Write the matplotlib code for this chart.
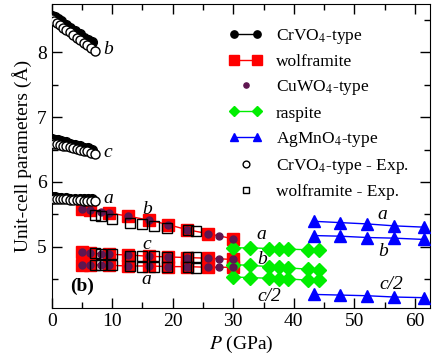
import matplotlib as mpl
mpl.use("Agg")
import matplotlib.pyplot as plt
from matplotlib.legend_handler import HandlerLine2D
from matplotlib.ticker import MultipleLocator

mpl.rcParams.update({"font.family": "Liberation Serif", "mathtext.fontset": "stix"})

# CrVO4-type (theory)
p_crvo4 = [0, 0.5, 1.0, 1.6, 2.3, 3.0, 3.8, 4.6, 5.4, 6.0, 6.6]
b_crvo4 = [8.57, 8.55, 8.52, 8.48, 8.43, 8.38, 8.33, 8.28, 8.23, 8.20, 8.16]
c_crvo4 = [6.66, 6.65, 6.64, 6.63, 6.61, 6.59, 6.57, 6.55, 6.53, 6.52, 6.50]
a_crvo4 = [5.76, 5.76, 5.75, 5.75, 5.75, 5.74, 5.74, 5.74, 5.73, 5.73, 5.73]

# CrVO4-type (experiment)
p_crvo4_exp = [0, 0.3, 0.8, 1.3, 1.9, 2.4, 3.0, 3.5, 4.1, 4.7, 5.3, 5.9, 6.5, 7.1]
b_crvo4_exp = [8.51, 8.49, 8.45, 8.42, 8.38, 8.35, 8.31, 8.27, 8.23, 8.19, 8.15, 8.11, 8.07, 8.03]
c_crvo4_exp = [6.60, 6.59, 6.58, 6.57, 6.56, 6.55, 6.54, 6.52, 6.51, 6.50, 6.48, 6.47, 6.45, 6.43]
a_crvo4_exp = [5.74, 5.74, 5.74, 5.73, 5.73, 5.73, 5.72, 5.72, 5.72, 5.72, 5.71, 5.71, 5.71, 5.70]

# wolframite (theory)
p_wolf = [5.0, 6.3, 9.5, 12.6, 16.0, 19.2, 22.4, 25.8, 30.0]
b_wolf = [5.58, 5.56, 5.52, 5.47, 5.41, 5.34, 5.26, 5.20, 5.12]
c_wolf = [4.91, 4.90, 4.88, 4.87, 4.85, 4.84, 4.83, 4.82, 4.80]
a_wolf = [4.72, 4.72, 4.71, 4.70, 4.70, 4.69, 4.69, 4.68, 4.68]

# CuWO4-type (theory)
p_cuwo4 = [5.0, 6.3, 8.1, 9.5, 12.6, 16.0, 19.2, 22.4, 25.8, 27.6, 30.0]
b_cuwo4 = [5.58, 5.56, 5.53, 5.52, 5.47, 5.41, 5.34, 5.26, 5.20, 5.16, 5.12]
c_cuwo4 = [4.91, 4.90, 4.89, 4.88, 4.87, 4.85, 4.84, 4.83, 4.82, 4.81, 4.80]
a_cuwo4 = [4.72, 4.72, 4.71, 4.71, 4.70, 4.70, 4.69, 4.69, 4.68, 4.68, 4.68]

# wolframite (experiment)
p_wolf_exp = [7.1, 8.2, 9.9, 12.9, 15.0, 16.9, 19.0, 22.5, 23.9]
b_wolf_exp = [5.49, 5.47, 5.42, 5.37, 5.35, 5.32, 5.28, 5.25, 5.24]
c_wolf_exp = [4.90, 4.89, 4.88, 4.86, 4.86, 4.85, 4.84, 4.84, 4.84]
a_wolf_exp = [4.72, 4.71, 4.71, 4.70, 4.69, 4.69, 4.68, 4.68, 4.67]

# raspite
p_rasp = [30.0, 32.8, 35.9, 37.5, 39.1, 42.4, 44.2]
a_rasp = [4.98, 4.98, 4.97, 4.97, 4.96, 4.95, 4.95]
b_rasp = [4.72, 4.71, 4.69, 4.68, 4.67, 4.65, 4.64]
c2_rasp = [4.53, 4.52, 4.51, 4.50, 4.50, 4.48, 4.48]

# AgMnO4-type
p_agmn = [43.4, 47.7, 52.1, 56.6, 61.5]
a_agmn = [5.39, 5.37, 5.35, 5.32, 5.30]
b_agmn = [5.17, 5.16, 5.14, 5.13, 5.11]
c2_agmn = [4.26, 4.25, 4.24, 4.22, 4.21]

PURPLE = "#5e1650"

fig = plt.figure(figsize=(4.36, 3.59), dpi=100)
ax = fig.add_axes([0.1186, 0.142, 0.8675, 0.847])

h = {}
for ys in [b_crvo4, c_crvo4, a_crvo4]:
    l, = ax.plot(p_crvo4, ys, "-o", color="black", lw=1, ms=7, zorder=3)
h["crvo4"] = l
for ys in [b_wolf, c_wolf, a_wolf]:
    l, = ax.plot(p_wolf, ys, "-s", color="red", mfc="red", mec="red", lw=1, ms=9, zorder=3)
h["wolf"] = l
for ys in [b_cuwo4, c_cuwo4, a_cuwo4]:
    l, = ax.plot(p_cuwo4, ys, "o", color=PURPLE, ms=5, ls="none", zorder=4)
h["cuwo4"] = l
for ys in [a_rasp, b_rasp, c2_rasp]:
    l, = ax.plot(p_rasp, ys, "-D", color="#00ee00", lw=1, ms=7, zorder=3)
h["rasp"] = l
for ys in [a_agmn, b_agmn, c2_agmn]:
    l, = ax.plot(p_agmn, ys, "-^", color="#0000ff", lw=1, ms=8.5, zorder=3)
h["agmn"] = l
for ys in [b_crvo4_exp, c_crvo4_exp, a_crvo4_exp]:
    l, = ax.plot(p_crvo4_exp, ys, "o", mfc="white", mec="black", mew=1, ms=6.5,
                 ls="none", zorder=5)
h["crvo4_exp"] = l
for ys in [b_wolf_exp, c_wolf_exp, a_wolf_exp]:
    l, = ax.plot(p_wolf_exp, ys, "s", mfc="none", mec="black", mew=1, ms=6.5,
                 ls="none", zorder=5)
h["wolf_exp"] = l

# labels of the cell parameters
lab = dict(fontsize=14, style="italic", ha="center", va="center")
for x, y, s in [(9.3, 8.04, "b"), (9.3, 6.46, "c"), (9.3, 5.75, "a"),
                (15.7, 5.58, "b"), (15.7, 5.03, "c"), (15.7, 4.49, "a"),
                (34.7, 5.18, "a"), (34.7, 4.80, "b"), (36.0, 4.23, "c/2"),
                (54.7, 5.49, "a"), (54.7, 4.92, "b"), (56.1, 4.41, "c/2")]:
    ax.text(x, y, s, **lab)
ax.text(5.0, 4.38, "(b)", fontsize=14, fontweight="bold", ha="center", va="center")

ax.set_xlim(0, 62.5)
ax.set_ylim(4.05, 8.75)
ax.xaxis.set_major_locator(MultipleLocator(10))
ax.xaxis.set_minor_locator(MultipleLocator(5))
ax.yaxis.set_major_locator(MultipleLocator(1))
ax.yaxis.set_minor_locator(MultipleLocator(0.5))
ax.tick_params(which="both", direction="in", top=True, right=True, labelsize=14, width=1)
ax.tick_params(which="major", length=7)
ax.tick_params(which="minor", length=4)
ax.set_xlabel("$P$ (GPa)", fontsize=14, labelpad=3)
ax.set_ylabel("Unit-cell parameters (Å)", fontsize=14, labelpad=4)

handles = [h["crvo4"], h["wolf"], h["cuwo4"], h["rasp"], h["agmn"], h["crvo4_exp"], h["wolf_exp"]]
labels = ["CrVO$_4$-type", "wolframite", "CuWO$_4$-type", "raspite", "AgMnO$_4$-type",
          "CrVO$_4$-type - Exp.", "wolframite - Exp."]
single = HandlerLine2D(numpoints=1)
ax.legend(handles, labels, loc="upper left", bbox_to_anchor=(0.469, 0.925), frameon=False,
          fontsize=12.5, numpoints=2, handlelength=1.9, handletextpad=0.8, labelspacing=0.47,
          borderpad=0, borderaxespad=0, markerscale=0.75,
          handler_map={h["cuwo4"]: single, h["crvo4_exp"]: single, h["wolf_exp"]: single})

fig.savefig("out.png", dpi=100, facecolor="white")
